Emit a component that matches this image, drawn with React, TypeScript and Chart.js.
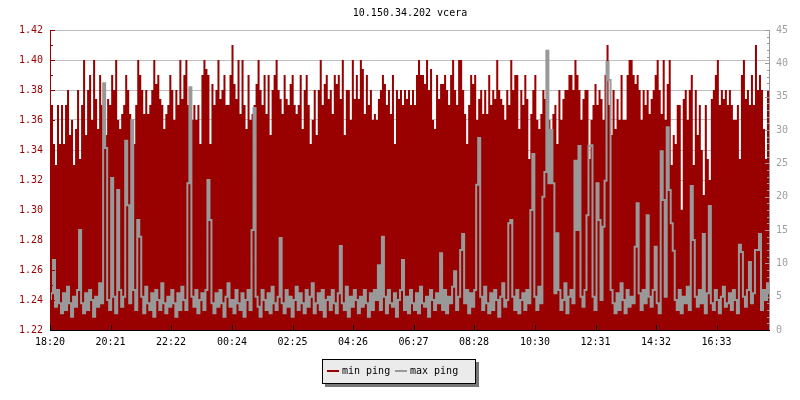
import React, { useEffect, useRef } from "react";
import { Chart, registerables } from "chart.js";

Chart.register(...registerables);

const chartTitle = "10.150.34.202 vcera";
const seriesLabels = ["min ping", "max ping"];
const timeTickLabels = ["18:20", "20:21", "22:22", "00:24", "02:25", "04:26", "06:27", "08:28", "10:30", "12:31", "14:32", "16:33"];
const windowMinutes = 1440;
const leftAxisRange = [1.22, 1.42];
const leftAxisStep = 0.02;
const rightAxisRange = [0, 45];
const rightAxisStep = 5;

// min ping (left axis), one value every ~4 minutes across the 24 h window
const minPing = [
  1.38, 1.37, 1.344, 1.33, 1.37, 1.344, 1.37, 1.344, 1.37, 1.38, 1.35, 1.36, 1.33, 1.354, 1.38, 1.334, 1.37, 1.40, 1.35, 1.38,
  1.39, 1.36, 1.40, 1.374, 1.354, 1.39, 1.37, 1.364, 1.35, 1.374, 1.37, 1.39, 1.38, 1.40, 1.36, 1.354, 1.364, 1.37, 1.39, 1.38,
  1.364, 1.35, 1.344, 1.37, 1.40, 1.39, 1.38, 1.364, 1.38, 1.364, 1.37, 1.38, 1.40, 1.384, 1.39, 1.374, 1.37, 1.354, 1.364, 1.37,
  1.39, 1.38, 1.36, 1.38, 1.37, 1.40, 1.374, 1.39, 1.40, 1.37, 1.364, 1.36, 1.37, 1.36, 1.37, 1.344, 1.39, 1.40, 1.394, 1.39,
  1.344, 1.384, 1.37, 1.38, 1.40, 1.374, 1.38, 1.39, 1.37, 1.37, 1.39, 1.41, 1.384, 1.374, 1.40, 1.364, 1.40, 1.37, 1.354, 1.39,
  1.36, 1.364, 1.37, 1.384, 1.40, 1.38, 1.37, 1.39, 1.364, 1.39, 1.35, 1.38, 1.39, 1.40, 1.38, 1.374, 1.364, 1.39, 1.374, 1.37,
  1.384, 1.39, 1.37, 1.364, 1.37, 1.39, 1.354, 1.38, 1.39, 1.37, 1.344, 1.36, 1.38, 1.35, 1.38, 1.40, 1.37, 1.384, 1.39, 1.374,
  1.38, 1.364, 1.39, 1.384, 1.39, 1.374, 1.40, 1.35, 1.38, 1.38, 1.36, 1.40, 1.374, 1.39, 1.374, 1.40, 1.394, 1.364, 1.39, 1.37,
  1.38, 1.36, 1.364, 1.36, 1.374, 1.38, 1.39, 1.384, 1.37, 1.38, 1.364, 1.39, 1.344, 1.38, 1.374, 1.38, 1.37, 1.38, 1.374, 1.38,
  1.37, 1.38, 1.37, 1.39, 1.40, 1.39, 1.39, 1.384, 1.40, 1.38, 1.394, 1.36, 1.354, 1.39, 1.374, 1.384, 1.384, 1.39, 1.38, 1.37,
  1.39, 1.40, 1.38, 1.37, 1.40, 1.40, 1.38, 1.364, 1.344, 1.37, 1.39, 1.384, 1.39, 1.36, 1.374, 1.38, 1.364, 1.38, 1.364, 1.39,
  1.37, 1.38, 1.374, 1.40, 1.38, 1.374, 1.37, 1.36, 1.38, 1.37, 1.40, 1.38, 1.39, 1.39, 1.354, 1.38, 1.37, 1.39, 1.374, 1.334,
  1.364, 1.38, 1.39, 1.36, 1.354, 1.364, 1.38, 1.374, 1.39, 1.36, 1.35, 1.364, 1.37, 1.344, 1.38, 1.36, 1.374, 1.38, 1.38, 1.39,
  1.39, 1.38, 1.40, 1.39, 1.38, 1.36, 1.374, 1.38, 1.38, 1.334, 1.36, 1.37, 1.384, 1.37, 1.38, 1.374, 1.36, 1.39, 1.41, 1.37,
  1.35, 1.38, 1.354, 1.374, 1.36, 1.39, 1.36, 1.36, 1.39, 1.40, 1.40, 1.39, 1.384, 1.39, 1.38, 1.36, 1.38, 1.37, 1.38, 1.364,
  1.374, 1.38, 1.39, 1.40, 1.38, 1.364, 1.40, 1.36, 1.384, 1.40, 1.33, 1.35, 1.344, 1.37, 1.37, 1.30, 1.374, 1.38, 1.36, 1.38,
  1.39, 1.33, 1.38, 1.35, 1.37, 1.34, 1.31, 1.37, 1.334, 1.32, 1.374, 1.38, 1.39, 1.40, 1.37, 1.38, 1.374, 1.38, 1.37, 1.38,
  1.37, 1.36, 1.36, 1.37, 1.334, 1.39, 1.40, 1.374, 1.38, 1.37, 1.39, 1.37, 1.41, 1.38, 1.39, 1.38, 1.354, 1.334, 1.38, 1.38,
];

// max ping (right axis)
const maxPing = [
  4.5, 5.5, 10.5, 3.5, 6, 4, 2.5, 5.5, 3, 6.5, 4, 2, 5, 3.5, 6, 15, 4, 2.5, 5.5, 3,
  6, 4.5, 2, 5, 3.5, 7, 4, 37, 27.3, 4.5, 3, 22.8, 5, 2.5, 21, 6, 3.5, 5, 28.4, 18.7,
  4, 31.5, 6, 3, 16.5, 14, 5, 2.5, 6.5, 4, 3, 5.5, 2, 6, 4.5, 3, 7, 4, 2.5, 5,
  3.5, 6, 4, 2, 5.5, 3, 6.5, 4.5, 3, 22, 36.4, 5, 3.5, 6, 2.5, 4.5, 5.5, 3, 6, 22.5,
  16.5, 4, 2.5, 5.5, 3.5, 6, 4, 2, 5, 7, 3.5, 4.5, 2.5, 6, 4, 3, 5.5, 2, 4.5, 6,
  3, 15, 33.3, 5, 3.5, 2, 6, 4.5, 3, 5.5, 2.5, 6.5, 4, 3, 5, 13.8, 4, 2.5, 6, 3.5,
  5, 2, 4.5, 6.5, 3, 5.5, 4, 2.5, 6, 3.5, 5, 7, 2.5, 4, 5.5, 3, 6, 2, 4.5, 5,
  3, 6, 4, 2.5, 5.5, 12.6, 4, 3, 6.5, 2, 5, 3.5, 6, 4.5, 2.5, 5, 3.5, 6, 4, 2,
  5.5, 3, 6, 4.5, 9.7, 3, 14, 5, 2.5, 6, 4, 3.5, 5.5, 2, 4.5, 6, 10.5, 3, 5, 2.5,
  6, 4, 3, 5.5, 2.5, 6.5, 4, 3.5, 5, 2, 6, 4.5, 3, 5.5, 4, 11.5, 3, 6, 2.5, 5,
  4, 6.5, 8.8, 3, 5, 12, 14.4, 4, 6, 2.5, 5.5, 3.5, 6, 21.8, 28.8, 5, 3, 6.5, 4, 2.5,
  5.5, 3, 6, 4.5, 2, 5, 7, 3.5, 4.5, 16, 16.5, 5, 3, 6, 2.5, 4.5, 5.5, 3, 6, 4,
  18, 26.4, 5, 3, 6.5, 4, 20, 23.7, 41.9, 22, 30, 22, 5.5, 14.5, 6, 3, 4.5, 7, 2.5, 5,
  6, 4, 25.4, 15, 27.6, 5, 3.5, 6, 17.2, 27.6, 27.7, 5, 3, 22, 16.5, 4.5, 15.5, 22.4, 40.2, 37.5,
  6, 4, 2.5, 5.5, 3, 7, 4.5, 2.5, 6, 3.5, 5, 4, 12.5, 19, 5.5, 3, 6, 4, 17.2, 5,
  3.5, 6, 12.5, 4, 2.5, 26.8, 19.5, 5, 30.4, 21, 16, 11.9, 4.5, 3, 6, 2.5, 5, 4, 6.5, 3,
  21.6, 13.5, 5, 3.5, 6, 4, 14.4, 2.5, 5.5, 18.6, 4, 3, 6, 4.5, 2.5, 5, 6.5, 3.5, 4, 5.5,
  3, 6, 4.5, 2.5, 12.8, 11.7, 5, 3.5, 6, 10.2, 4, 5.5, 12, 12, 14.4, 3, 6, 4.5, 7, 5.5,
];

const RED = "#990000";
const GRAY = "#999999";
const GRID = "#c0c0c0";
const FONT = '"DejaVu Sans Mono", monospace';

const toMinutes = (label: string) => {
  const [h, m] = label.split(":").map(Number);
  return h * 60 + m;
};
const startMinutes = toMinutes(timeTickLabels[0]);
const tickMinutes = timeTickLabels.map((l) => (toMinutes(l) - startMinutes + 1440) % 1440);
const toPoints = (arr: number[]) =>
  arr.map((v, i) => ({ x: (i * windowMinutes) / (arr.length - 1), y: v }));

const overlay = {
  id: "rrdOverlay",
  afterDatasetsDraw(chart: any) {
    const { ctx, chartArea } = chart;
    const { left, right, top, bottom } = chartArea;
    const yS = chart.scales.y;
    const y1S = chart.scales.y1;
    const xS = chart.scales.x;
    ctx.save();
    ctx.lineWidth = 1;
    // title
    ctx.fillStyle = "#000";
    ctx.font = `10px ${FONT}`;
    ctx.textAlign = "center";
    ctx.textBaseline = "middle";
    ctx.fillText(chartTitle, (left + right) / 2, 13);

    // left axis
    ctx.strokeStyle = RED;
    ctx.beginPath();
    ctx.moveTo(left + 0.5, top);
    ctx.lineTo(left + 0.5, bottom);
    const nLeft = Math.round((leftAxisRange[1] - leftAxisRange[0]) / (leftAxisStep / 2));
    for (let k = 0; k <= nLeft; k++) {
      const py = Math.round(yS.getPixelForValue(leftAxisRange[0] + (k * leftAxisStep) / 2)) + 0.5;
      const len = k % 2 === 0 ? 5 : 3;
      ctx.moveTo(left, py);
      ctx.lineTo(left + len, py);
    }
    ctx.stroke();

    // right axis
    ctx.strokeStyle = GRAY;
    ctx.beginPath();
    ctx.moveTo(right - 0.5, top);
    ctx.lineTo(right - 0.5, bottom);
    const nRight = Math.round((rightAxisRange[1] - rightAxisRange[0]) / (rightAxisStep / 5));
    for (let k = 0; k <= nRight; k++) {
      const py = Math.round(y1S.getPixelForValue(rightAxisRange[0] + (k * rightAxisStep) / 5)) + 0.5;
      const len = k % 5 === 0 ? 5 : 3;
      ctx.moveTo(right, py);
      ctx.lineTo(right - len, py);
    }
    ctx.stroke();

    // bottom axis
    ctx.strokeStyle = "#000";
    ctx.beginPath();
    ctx.moveTo(left, bottom + 0.5);
    ctx.lineTo(right, bottom + 0.5);
    tickMinutes.forEach((m) => {
      const px = Math.round(xS.getPixelForValue(m)) + 0.5;
      ctx.moveTo(px, bottom);
      ctx.lineTo(px, bottom - 5);
    });
    ctx.stroke();
    ctx.restore();
  },
};

export default function App() {
  const canvasRef = useRef<HTMLCanvasElement | null>(null);

  useEffect(() => {
    document.body.style.margin = "0";
    const canvas = canvasRef.current;
    if (!canvas) return;
    const font = { family: FONT, size: 10 };
    const chart = new Chart(canvas, {
      type: "line",
      data: {
        datasets: [
          {
            label: seriesLabels[0],
            data: toPoints(minPing),
            yAxisID: "y",
            stepped: "middle",
            fill: "start",
            backgroundColor: RED,
            borderColor: RED,
            borderWidth: 0,
            pointRadius: 0,
            order: 2,
          },
          {
            label: seriesLabels[1],
            data: toPoints(maxPing),
            yAxisID: "y1",
            stepped: "middle",
            fill: false,
            borderColor: GRAY,
            borderWidth: 2,
            borderJoinStyle: "miter",
            borderCapStyle: "butt",
            pointRadius: 0,
            order: 1,
          },
        ],
      } as any,
      options: {
        responsive: false,
        animation: false,
        events: [],
        layout: { padding: { top: 30, left: 0, right: 0, bottom: 0 } },
        plugins: {
          legend: { display: false },
          title: { display: false },
          tooltip: { enabled: false },
        },
        scales: {
          x: {
            type: "linear",
            min: 0,
            max: windowMinutes,
            grid: { display: false, drawTicks: false },
            border: { display: false },
            afterBuildTicks: (s: any) => {
              s.ticks = tickMinutes.map((v) => ({ value: v }));
            },
            afterFit: (s: any) => {
              s.height = 70;
            },
            ticks: {
              autoSkip: false,
              maxRotation: 0,
              color: "#000",
              font,
              padding: 6,
              callback: (_v: any, i: number) => timeTickLabels[i],
            },
          },
          y: {
            position: "left",
            min: leftAxisRange[0],
            max: leftAxisRange[1],
            grid: { color: GRID, drawTicks: false },
            border: { display: false },
            afterFit: (s: any) => {
              s.width = 50;
            },
            ticks: {
              stepSize: leftAxisStep,
              color: RED,
              font,
              padding: 7,
              callback: (v: any) => Number(v).toFixed(2),
            },
          },
          y1: {
            position: "right",
            min: rightAxisRange[0],
            max: rightAxisRange[1],
            grid: { display: false, drawTicks: false },
            border: { display: false },
            afterFit: (s: any) => {
              s.width = 30;
            },
            ticks: {
              stepSize: rightAxisStep,
              color: "#a0a0a0",
              font,
              padding: 6,
            },
          },
        },
      } as any,
      plugins: [overlay],
    });
    return () => chart.destroy();
  }, []);

  const legendText: React.CSSProperties = {
    position: "absolute",
    top: 5,
    fontFamily: FONT,
    fontSize: 10,
    lineHeight: "12px",
    color: "#000",
    whiteSpace: "nowrap",
  };

  return (
    <div style={{ position: "relative", width: 800, height: 400, background: "#fff" }}>
      <canvas ref={canvasRef} width={800} height={400} style={{ display: "block" }} />
      <div
        style={{
          position: "absolute",
          left: 322,
          top: 359,
          width: 154,
          height: 25,
          boxSizing: "border-box",
          border: "1px solid #000",
          background: "#ebebeb",
          boxShadow: "3px 3px 0 #777",
        }}
      >
        <div style={{ position: "absolute", left: 4, top: 10, width: 12, height: 2, background: RED }} />
        <span style={{ ...legendText, left: 19 }}>{seriesLabels[0]}</span>
        <div style={{ position: "absolute", left: 72, top: 10, width: 12, height: 2, background: GRAY }} />
        <span style={{ ...legendText, left: 87 }}>{seriesLabels[1]}</span>
      </div>
    </div>
  );
}
